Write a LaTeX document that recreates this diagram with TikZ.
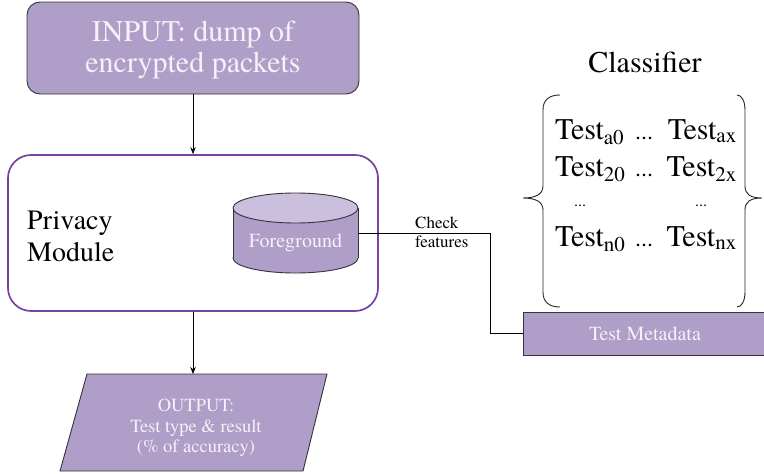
\documentclass[tikz,border=0pt]{standalone}
\usepackage{fontspec}
\setmainfont{texgyretermes}[Extension=.otf, UprightFont=*-regular, BoldFont=*-bold, ItalicFont=*-italic, BoldItalicFont=*-bolditalic]
\usetikzlibrary{arrows.meta}
\definecolor{lav}{RGB}{174,158,200}
\definecolor{lavtop}{RGB}{202,192,222}
\definecolor{pmod}{RGB}{120,66,162}
\definecolor{wtxt}{RGB}{246,241,249}
\definecolor{edge}{RGB}{55,50,60}
\tikzset{
  lavbox/.style={fill=lav, draw=edge, line width=0.9pt},
  wt/.style={text=wtxt, inner sep=0pt},
  bt/.style={text=black, inner sep=0pt},
  arr/.style={-{Stealth[length=7pt,width=5.5pt]}, line width=0.7pt},
  conn/.style={line width=0.8pt},
  brace/.style={line width=0.9pt, draw=black!85},
  fA/.style={font=\rmfamily\fontsize{30}{30}\selectfont},
  fP/.style={font=\rmfamily\fontsize{28}{28}\selectfont},
  fT/.style={font=\rmfamily\fontsize{30}{30}\selectfont},
  fO/.style={font=\rmfamily\fontsize{18.5}{18.5}\selectfont},
  fF/.style={font=\rmfamily\fontsize{20}{20}\selectfont},
  fC/.style={font=\rmfamily\fontsize{17}{17}\selectfont},
  fD/.style={font=\rmfamily\fontsize{16}{16}\selectfont},
  fE/.style={font=\rmfamily\fontsize{24}{24}\selectfont},
}
\begin{document}
\begin{tikzpicture}[x=1pt,y=-1pt]
\useasboundingbox (0,0) rectangle (764,474);
\fill[white] (0,0) rectangle (764,474);

% INPUT box
\node[lavbox, rounded corners=13pt, minimum width=332pt, minimum height=92pt, inner sep=0pt] (inp) at (193,48) {};
\node[wt, fA, anchor=base] (inp1) at (193,41) {INPUT: dump of};
\node[wt, fA, anchor=base] (inp2) at (193,72) {encrypted packets};

% Privacy module
\node[draw=pmod, line width=1.7pt, rounded corners=23pt, minimum width=370pt, minimum height=156pt, inner sep=0pt, fill=white] (priv) at (193,233) {};
\node[bt, fP, anchor=base west] (pm1) at (27,229) {Privacy};
\node[bt, fP, anchor=base west] (pm2) at (27,261) {Module};

% Cylinder (Foreground)
\filldraw[fill=lav, draw=edge, line width=0.9pt] (295.5,258) ellipse[x radius=62.5pt, y radius=15pt];
\fill[lav] (233,208) rectangle (358,258);
\draw[edge, line width=0.9pt] (233,208) -- (233,258) (358,208) -- (358,258);
\filldraw[fill=lavtop, draw=edge, line width=0.9pt] (295.5,208) ellipse[x radius=62.5pt, y radius=15pt];
\node[wt, fF, anchor=base] (fg) at (295.5,247) {Foreground};
\coordinate (fgR) at (358,233);

% Check features
\node[bt, fC, anchor=base west] (chk1) at (415,228) {Check};
\node[bt, fC, anchor=base west] (chk2) at (415,247) {features};

% Test Metadata
\begin{scope}
\clip (0,0) rectangle (764,474);
\node[lavbox, minimum width=244pt, minimum height=43pt, inner sep=0pt] (tm) at (645,333.5) {};
\end{scope}
\node[wt, fF, anchor=center] (tmt) at (645,334) {Test Metadata};

\coordinate (bend) at (490,233);
\draw[conn] (fgR) -- (bend) |- (tm.west);

% Classifier
\node[bt, fT, anchor=base] (cls) at (645,72) {Classifier};

\node[bt, fT, anchor=base west] (r1a) at (555,139) {Test\textsubscript{a0}};
\node[bt, fE, anchor=base] (r1d) at (644,139) {...};
\node[bt, fT, anchor=base east] (r1b) at (737,139) {Test\textsubscript{ax}};
\node[bt, fT, anchor=base west] (r2a) at (555,176) {Test\textsubscript{20}};
\node[bt, fE, anchor=base] (r2d) at (644,176) {...};
\node[bt, fT, anchor=base east] (r2b) at (737,176) {Test\textsubscript{2x}};
\node[bt, fD, anchor=base] (r3a) at (580,206) {...};
\node[bt, fD, anchor=base] (r3b) at (701,206) {...};
\node[bt, fT, anchor=base west] (r4a) at (555,246) {Test\textsubscript{n0}};
\node[bt, fE, anchor=base] (r4d) at (644,246) {...};
\node[bt, fT, anchor=base east] (r4b) at (737,246) {Test\textsubscript{nx}};

% Braces
\draw[brace] (560,95) .. controls (549,95) and (543,100) .. (543,110) -- (543,186)
  .. controls (543,194) and (536,198) .. (523,198)
  .. controls (536,198) and (543,202) .. (543,210) -- (543,292)
  .. controls (543,302) and (549,307) .. (560,307);
\draw[brace] (737,95) .. controls (741,95) and (745,100) .. (745,110) -- (745,186)
  .. controls (745,194) and (750,198) .. (762,198)
  .. controls (750,198) and (745,202) .. (745,210) -- (745,292)
  .. controls (745,302) and (741,307) .. (737,307);

% OUTPUT parallelogram
\coordinate (o1) at (87,374);
\coordinate (o2) at (327,374);
\coordinate (o3) at (303,471);
\coordinate (o4) at (60,471);
\filldraw[lavbox] (o1) -- (o2) -- (o3) -- (o4) -- cycle;
\coordinate (otop) at (193,374);
\node[wt, fO, anchor=base] (out1) at (196,411) {OUTPUT:};
\node[wt, fO, anchor=base] (out2) at (196,432) {Test type \& result};
\node[wt, fO, anchor=base] (out3) at (196,452) {(\% of accuracy)};

% Arrows
\draw[arr] (inp.south) -- (priv.north);
\draw[arr] (priv.south) -- (otop);
\end{tikzpicture}
\end{document}
